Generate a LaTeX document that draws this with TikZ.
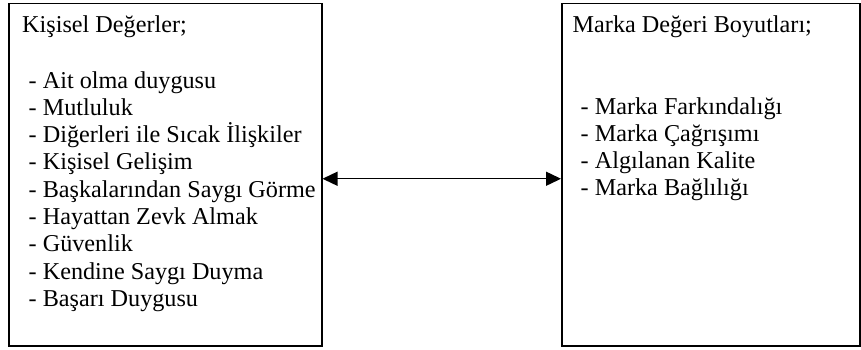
\documentclass[tikz,border=0pt]{standalone}
\usepackage{fontspec}
\setmainfont{Liberation Serif}
\usetikzlibrary{arrows.meta,calc}
\begin{document}
\begin{tikzpicture}[x=1pt,y=1pt,
  box/.style={draw=black,line width=1.5pt,minimum width=#1,minimum height=342pt,inner sep=0pt,anchor=north west},
  txt/.style={inner sep=0pt,anchor=base west,font=\fontsize{24.2}{27.4}\selectfont},
  link/.style={line width=1.4pt,{Triangle[length=15pt,width=14pt]}-{Triangle[length=15pt,width=14pt]}}]
\useasboundingbox (0,0) rectangle (861,349);
\node[box=313pt] (L) at (8,346) {};
\node[box=298pt] (R) at (561,346) {};
\node[txt] (Lt) at ($(L.north west)+(14,-29.5)$) {Kişisel Değerler;};
\foreach \t [count=\i] in {Ait olma duygusu,Mutluluk,Diğerleri ile Sıcak İlişkiler,Kişisel Gelişim,Başkalarından Saygı Görme,Hayattan Zevk Almak,Güvenlik,Kendine Saygı Duyma,Başarı Duygusu}
  \node[txt] (La\i) at ($(L.north west)+(20.5,{-85-27.3*(\i-1)})$) {- \t};
\node[txt] (Rt) at ($(R.north west)+(11.5,-29.5)$) {Marka Değeri Boyutları;};
\foreach \t [count=\i] in {Marka Farkındalığı,Marka Çağrışımı,Algılanan Kalite,Marka Bağlılığı}
  \node[txt] (Ra\i) at ($(R.north west)+(19.5,{-111-27.3*(\i-1)})$) {- \t};
\draw[link] ([yshift=-4pt]L.east) -- ([yshift=-4pt]R.west);
\end{tikzpicture}
\end{document}
